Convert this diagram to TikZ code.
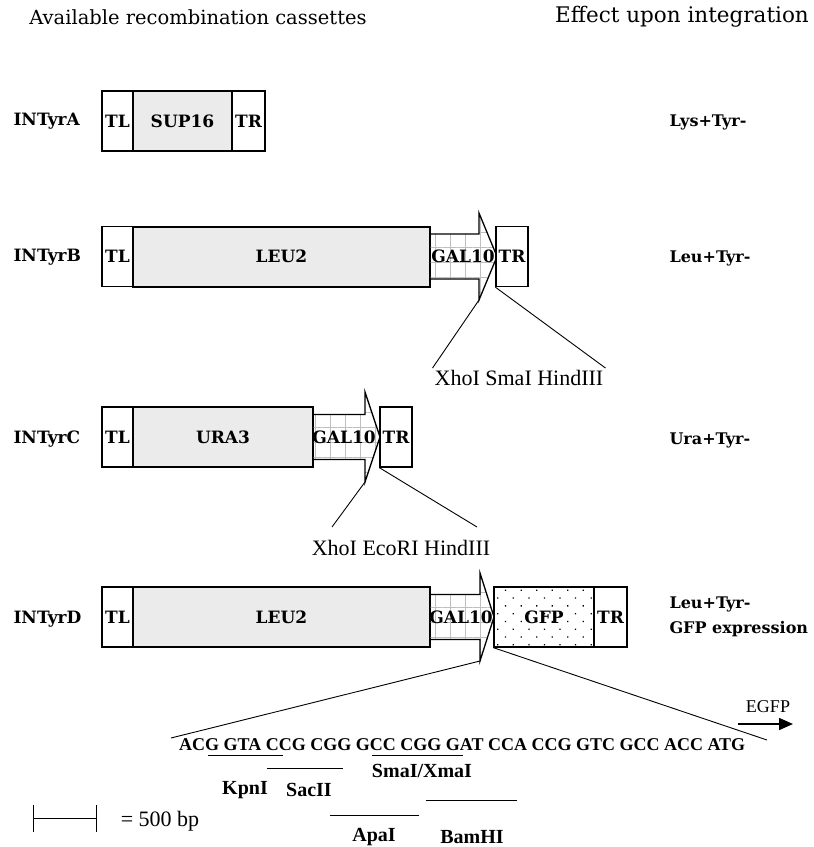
\documentclass[tikz,border=0pt]{standalone}
\usepackage{fontspec}
\setmainfont{Liberation Serif}
\newfontfamily\dvfont{DejaVu Serif}
\usetikzlibrary{arrows.meta,patterns.meta}

\newcommand{\segfont}{\dvfont\bfseries\fontsize{17}{17}\selectfont}

\begin{document}
\begin{tikzpicture}[x=1pt, y=-1pt,
    seg/.style={draw, line width=1.3pt, minimum height=60pt, inner sep=0pt, font=\segfont},
    tbox/.style={seg, fill=white},
    gene/.style={seg, line width=2pt, fill=gray!16},
    gfpbox/.style={seg, pattern={Dots[distance=11pt, angle=45, radius=0.9pt]}},
    gal/.style={draw, line width=1.3pt, pattern={Hatch[distance=15pt, line width=0.8pt]}, pattern color=gray!50},
    galtext/.style={inner sep=0pt, font=\segfont},
    cassette/.style={anchor=west, font=\dvfont\bfseries\fontsize{17}{17}\selectfont},
    effect/.style={anchor=west, align=left, font=\dvfont\bfseries\fontsize{16}{25}\selectfont},
    head/.style={font=\dvfont\fontsize{19.5}{19.5}\selectfont},
    site/.style={inner sep=2pt, font=\fontsize{22}{22}\selectfont},
    enzyme/.style={inner sep=0pt, font=\bfseries\fontsize{20}{20}\selectfont},
    thin/.style={line width=0.9pt}]

     \useasboundingbox (0,0) rectangle (814,847);

     % headings
     \node[head] (hleft) at (198,17) {Available recombination cassettes};
     \node[head, font=\dvfont\fontsize{21.5}{21.5}\selectfont] (hright) at (682,17) {Effect upon integration};

     % INTyrA
     \node[cassette] (nA) at (10,121) {INTyrA};
     \node[tbox, minimum width=31pt] (tlA) at (117.5,121) {TL};
     \node[tbox, minimum width=33pt] (trA) at (248.5,121) {TR};
     \node[gene, minimum width=99pt] (supA) at (182.5,121) {SUP16};
     \node[effect] (effA) at (666,122) {Lys+Tyr-};

     % INTyrB
     \node[cassette] (nB) at (10,257) {INTyrB};
     \node[tbox, minimum width=31pt] (tlB) at (117.5,256.5) {TL};
     \node[gene, minimum width=297pt] (leuB) at (281.5,256.5) {LEU2};
     \draw[gal] (430,234) -- (479,234) -- (479,213) -- (497,256.5) -- (479,300) -- (479,279) -- (430,279) -- cycle;
     \node[galtext] (galB) at (463,256.5) {GAL10};
     \node[tbox, minimum width=32pt] (trB) at (512,256.5) {TR};
     \node[effect] (effB) at (666,258) {Leu+Tyr-};
     \coordinate (barbB) at (479,300);
     \node[site] (siteB) at (519,378) {XhoI SmaI HindIII};
     \draw[thin] (barbB) -- (siteB.north west);
     \draw[thin] (trB.south west) -- (siteB.north east);

     % INTyrC
     \node[cassette] (nC) at (10,439) {INTyrC};
     \node[tbox, minimum width=31pt] (tlC) at (117.5,437) {TL};
     \node[gene, minimum width=180pt] (uraC) at (223,437) {URA3};
     \draw[gal] (313,414.5) -- (365,414.5) -- (365,392) -- (380,437) -- (365,482) -- (365,459.5) -- (313,459.5) -- cycle;
     \node[galtext] (galC) at (344,437) {GAL10};
     \node[tbox, minimum width=32pt] (trC) at (396,437) {TR};
     \node[effect] (effC) at (666,440) {Ura+Tyr-};
     \coordinate (barbC) at (365,482);
     \coordinate (lftC) at (332,527);
     \coordinate (rgtC) at (477,527);
     \node[site] (siteC) at (401,548) {XhoI EcoRI HindIII};
     \draw[thin] (barbC) -- (lftC);
     \draw[thin] (trC.south west) -- (rgtC);

     % INTyrD
     \node[cassette] (nD) at (10,619) {INTyrD};
     \node[tbox, minimum width=31pt] (tlD) at (117.5,617) {TL};
     \node[gene, minimum width=297pt] (leuD) at (281.5,617) {LEU2};
     \draw[gal] (430,594.5) -- (480,594.5) -- (480,573) -- (494,617) -- (480,661) -- (480,639.5) -- (430,639.5) -- cycle;
     \node[galtext] (galD) at (461,617) {GAL10};
     \node[gfpbox, minimum width=100pt] (gfpD) at (544,617) {GFP};
     \node[tbox, minimum width=33pt] (trD) at (610.5,617) {TR};
     \node[effect] (effD) at (666,617) {Leu+Tyr-\\GFP expression};

     % linker sequence
     \node[anchor=west, inner sep=0pt, font=\bfseries\fontsize{18}{18}\selectfont] (seq) at (179,745)
          {ACG GTA CCG CGG GCC CGG GAT CCA CCG GTC GCC ACC ATG};
     \coordinate (barbD) at (480,661);
     \coordinate (seqL) at (171,738);
     \coordinate (seqR) at (767,740);
     \draw[thin] (barbD) -- (seqL);
     \draw[thin] (gfpD.south west) -- (seqR);

     \node[inner sep=0pt, font=\fontsize{18}{18}\selectfont] (egfp) at (768,707) {EGFP};
     \coordinate (egfpS) at (738,724);
     \coordinate (egfpE) at (793,724);
     \draw[line width=1.6pt, -{Triangle[length=14pt, width=12pt]}] (egfpS) -- (egfpE);

     % restriction sites
     \draw[thin] (208,755) -- (283,755);
     \draw[thin] (372,755) -- (463,755);
     \draw[thin] (267,768) -- (343,768);
     \draw[thin] (426,800) -- (517,800);
     \draw[thin] (330,815) -- (419,815);
     \node[enzyme] (smaI) at (422,771) {SmaI/XmaI};
     \node[enzyme] (kpnI) at (245,790) {KpnI};
     \node[enzyme] (sacII) at (309,790) {SacII};
     \node[enzyme] (apaI) at (374,837) {ApaI};
     \node[enzyme] (bamHI) at (472,837) {BamHI};

     % scale bar
     \draw[thin] (33,805) -- (33,832) (33,818) -- (96,818) (96,805) -- (96,832);
     \node[inner sep=0pt, font=\fontsize{22}{22}\selectfont] (bar) at (160,821) {= 500 bp};
\end{tikzpicture}
\end{document}
